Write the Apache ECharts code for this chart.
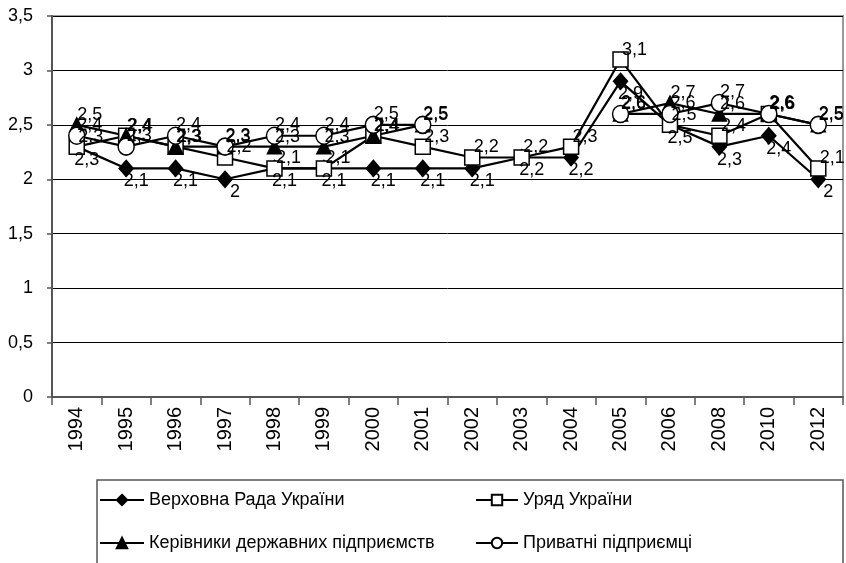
<!DOCTYPE html>
<html>
<head>
<meta charset="utf-8">
<script src="https://cdn.jsdelivr.net/npm/echarts@6/dist/echarts.min.js"></script>
<style>
  html, body { margin: 0; padding: 0; background: #fff; }
  #chart { width: 846px; height: 563px; }
</style>
</head>
<body>
<div id="chart"></div>
<script>
const years = ['1994', '1995', '1996', '1997', '1998', '1999', '2000', '2001',
  '2002', '2003', '2004', '2005', '2006', '2008', '2010', '2012']

// Верховна Рада України
const rada = [2.3, 2.1, 2.1, 2.0, 2.1, 2.1, 2.1, 2.1, 2.1, 2.2, 2.2, 2.9, 2.5, 2.3, 2.4, 2.0]
// Уряд України
const uryad = [2.3, 2.4, 2.3, 2.2, 2.1, 2.1, 2.4, 2.3, 2.2, 2.2, 2.3, 3.1, 2.5, 2.4, 2.6, 2.1]
// Керівники державних підприємств
const kerivnyky = [2.5, 2.4, 2.3, 2.3, 2.3, 2.3, 2.4, 2.5, null, null, null, 2.6, 2.7, 2.6, 2.6, 2.5]
// Приватні підприємці
const pryvatni = [2.4, 2.3, 2.4, 2.3, 2.4, 2.4, 2.5, 2.5, null, null, null, 2.6, 2.6, 2.7, 2.6, 2.5]

const font = 'Liberation Sans, Arial, sans-serif'
const comma = (v) => String(v).replace('.', ',')

const chart = echarts.init(document.getElementById('chart'))

// спільний вигляд серії
const makeSeries = (name, data, symbol, size, fill, offset) => ({
  name: name,
  type: 'line',
  data: data,
  symbol: symbol,
  symbolSize: size,
  showAllSymbol: true,
  lineStyle: { color: '#000', width: 2.2 },
  itemStyle: { color: fill, borderColor: '#000', borderWidth: 1.5 },
  label: {
    show: true,
    position: 'inside',
    offset: offset,
    color: '#000',
    fontFamily: font,
    fontSize: 18,
    formatter: (p) => comma(p.value)
  },
  emphasis: { disabled: true },
  animation: false
})

const option = {
  backgroundColor: '#fff',
  textStyle: { fontFamily: font },
  grid: {
    left: 52, right: 3, top: 16, bottom: 166,
    show: true, borderColor: '#999', borderWidth: 2
  },
  xAxis: {
    type: 'category',
    data: years,
    boundaryGap: true,
    axisLine: { lineStyle: { color: '#555', width: 2 } },
    axisTick: { show: true, length: 8, lineStyle: { color: '#555', width: 1.5 } },
    axisLabel: { rotate: 90, margin: 10, color: '#000', fontSize: 20, fontFamily: font, interval: 0 },
    splitLine: { show: false }
  },
  yAxis: {
    type: 'value',
    min: 0,
    max: 3.5,
    interval: 0.5,
    axisLine: { show: true, lineStyle: { color: '#555', width: 2 } },
    axisTick: { show: true, length: 5, lineStyle: { color: '#555', width: 1.5 } },
    axisLabel: { margin: 19, color: '#000', fontSize: 18, fontFamily: font, formatter: comma },
    splitLine: { lineStyle: { color: '#000', width: 1 } }
  },
  legend: [
    {
      data: ['Верховна Рада України', 'Керівники державних підприємств'],
      orient: 'vertical',
      left: 94, top: 486,
      itemWidth: 44, itemHeight: 13, itemGap: 25,
      textStyle: { color: '#000', fontSize: 18, fontFamily: font },
      selectedMode: false
    },
    {
      data: ['Уряд України', 'Приватні підприємці'],
      orient: 'vertical',
      left: 470, top: 486,
      itemWidth: 42, itemHeight: 13, itemGap: 25,
      textStyle: { color: '#000', fontSize: 18, fontFamily: font },
      selectedMode: false
    }
  ],
  graphic: [
    {
      type: 'rect',
      shape: { x: 97, y: 480, width: 746, height: 120 },
      style: { fill: 'none', stroke: '#555', lineWidth: 1.5 },
      silent: true
    }
  ],
  series: [
    makeSeries('Верховна Рада України', rada, 'diamond', [14, 16], '#000', [10, 13]),
    makeSeries('Уряд України', uryad, 'rect', 15, '#fff', [14, -10]),
    makeSeries('Керівники державних підприємств', kerivnyky, 'triangle', 14, '#000', [13, -10]),
    makeSeries('Приватні підприємці', pryvatni, 'circle', [16, 17], '#fff', [13, -11])
  ]
}

chart.setOption(option)
</script>
</body>
</html>
